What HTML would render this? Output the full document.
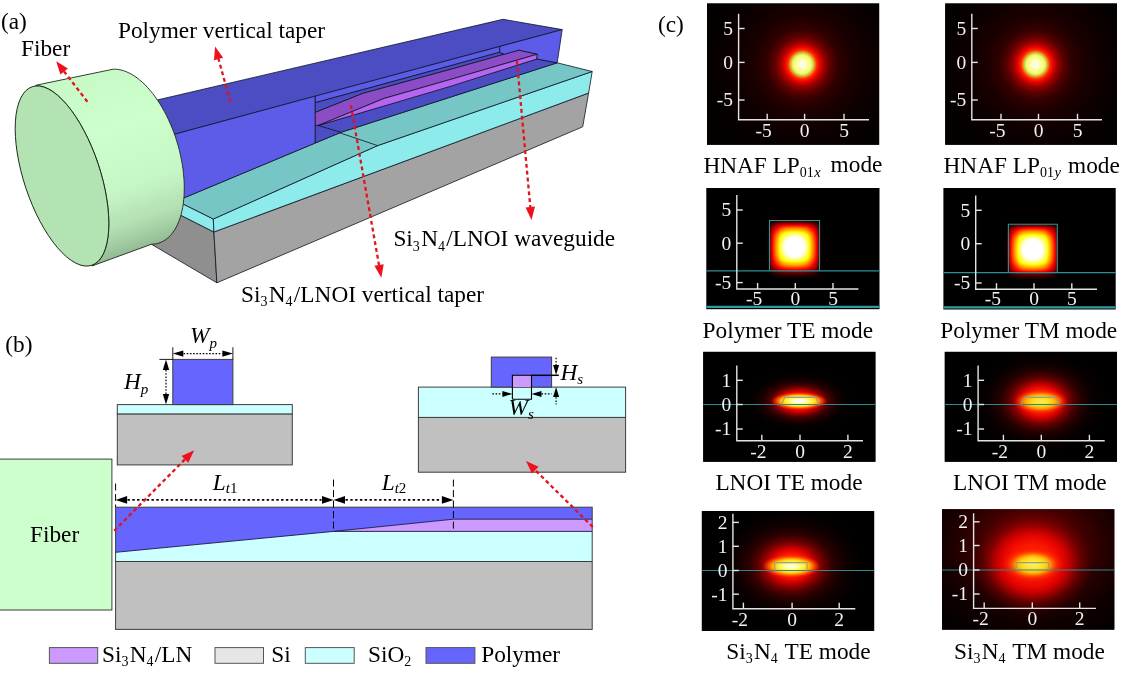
<!DOCTYPE html>
<html><head><meta charset="utf-8"><title>Fiber-to-chip coupler figure</title>
<style>
html,body{margin:0;padding:0;background:#fff;}
svg{display:block;font-family:"Liberation Serif","Times New Roman",serif;}
</style></head><body>
<svg width="1121" height="684" viewBox="0 0 1121 684">
<rect width="1121" height="684" fill="#fff"/>
<defs>
<linearGradient id="fibside" gradientUnits="userSpaceOnUse" x1="105" y1="72" x2="165" y2="250">
<stop offset="0" stop-color="#c8fac8"/><stop offset="0.3" stop-color="#ccffcc"/><stop offset="0.62" stop-color="#c6f6c6"/><stop offset="0.8" stop-color="#b4e0b4"/><stop offset="0.92" stop-color="#9cc49c"/><stop offset="1" stop-color="#86aa86"/>
</linearGradient>
</defs>

<g id="panelA">
<polygon points="183.0,216.4 213.9,232.0 216.9,282.8 152.7,245.0 140.0,237.5 140.0,195.0" fill="#8f8f8f" stroke="#0c1424" stroke-width="0.8" stroke-linejoin="round" />
<polygon points="150.0,187.5 213.3,219.0 213.9,232.0 150.0,199.7" fill="#8eebeb" stroke="#0c1424" stroke-width="0.8" stroke-linejoin="round" />
<polygon points="213.9,232.0 588.6,93.0 582.7,126.8 216.9,282.8" fill="#a3a3a3" stroke="#0c1424" stroke-width="0.8" stroke-linejoin="round" />
<polygon points="213.3,219.0 377.6,145.6 592.2,71.5 588.6,93.0 213.9,232.0" fill="#8eebeb" stroke="#0c1424" stroke-width="0.8" stroke-linejoin="round" />
<polygon points="160.0,207.9 315.3,143.0 341.0,132.3 557.2,62.8 592.2,71.5 377.6,145.6 213.3,219.0 150.0,187.5" fill="#77c6c6" stroke="#0c1424" stroke-width="0.8" stroke-linejoin="round" />
<line x1="377.6" y1="145.6" x2="318.2" y2="125.5" stroke="#0c1424" stroke-width="0.8" />
<polygon points="140.0,104.0 503.0,19.3 562.2,29.6 160.0,138.2" fill="#4c4cc3" stroke="#0c1424" stroke-width="0.8" stroke-linejoin="round" />
<polygon points="160.0,138.2 315.3,96.1 315.3,143.0 160.0,207.9" fill="#5c5ce8" stroke="#0c1424" stroke-width="0.8" stroke-linejoin="round" />
<polygon points="315.3,125.3 318.2,125.5 536.9,59.0 557.2,62.8 341.0,132.3 315.3,143.0" fill="#4c4cc3" stroke="#0c1424" stroke-width="0.8" stroke-linejoin="round" />
<line x1="341.0" y1="132.3" x2="318.2" y2="125.5" stroke="#0c1424" stroke-width="0.8" />
<polygon points="315.3,96.1 499.7,46.5 499.7,52.3 315.3,102.7" fill="#5c5ce8" stroke="#0c1424" stroke-width="0.8" stroke-linejoin="round" />
<polygon points="315.3,102.7 499.7,52.3 504.3,54.2 450.0,69.5 362.8,93.4 315.3,112.4" fill="#4c4cc3" stroke="#0c1424" stroke-width="0.8" stroke-linejoin="round" />
<polygon points="315.3,112.4 362.8,93.4 450.0,69.5 519.0,50.1 537.4,54.2 450.0,79.6 384.2,98.4 318.2,125.5 315.3,125.3" fill="#8c4cc6" stroke="#0c1424" stroke-width="0.8" stroke-linejoin="round" />
<polygon points="318.2,125.5 384.2,98.4 450.0,79.6 537.4,54.2 536.9,59.0 450.0,86.5" fill="#b665f0" stroke="#0c1424" stroke-width="0.8" stroke-linejoin="round" />
<polygon points="499.7,46.5 562.2,29.6 557.2,62.8 536.9,59.0 537.4,54.2 519.0,50.1 504.3,54.2 499.7,52.3" fill="#5c5ce8" stroke="#0c1424" stroke-width="0.8" stroke-linejoin="round" />
<polygon points="35.7,85.3 113.2,69.2 115.7,69.2 118.3,69.5 120.9,70.0 123.6,70.7 126.2,71.7 128.9,72.9 131.6,74.3 134.3,76.0 137.1,77.9 139.7,80.0 142.4,82.3 145.1,84.8 147.7,87.6 150.2,90.5 152.8,93.6 155.2,96.9 157.6,100.3 160.0,103.9 162.2,107.7 164.4,111.6 166.5,115.6 168.5,119.7 170.4,123.9 172.2,128.2 173.9,132.6 175.5,137.1 176.9,141.6 178.3,146.2 179.5,150.8 180.5,155.4 181.5,160.0 182.3,164.6 183.0,169.2 183.5,173.7 183.9,178.2 184.2,182.7 184.3,187.0 184.2,191.3 184.1,195.5 183.7,199.6 183.3,203.5 182.7,207.4 181.9,211.1 181.1,214.6 180.1,218.0 178.9,221.2 177.7,224.2 176.3,227.0 174.8,229.7 173.1,232.1 171.4,234.4 169.6,236.4 167.6,238.2 165.6,239.7 163.4,241.1 161.2,242.2 158.9,243.1 156.5,243.7 154.1,244.1 151.6,244.2 91.9,266.0 91.7,265.3 93.5,264.6 95.2,263.6 96.8,262.5 98.4,261.1 99.8,259.5 101.2,257.6 102.4,255.6 103.6,253.4 104.6,250.9 105.5,248.3 106.4,245.5 107.1,242.5 107.6,239.3 108.1,235.9 108.5,232.5 108.7,228.8 108.8,225.0 108.8,221.1 108.7,217.1 108.4,213.0 108.0,208.8 107.6,204.5 106.9,200.1 106.2,195.7 105.4,191.2 104.4,186.7 103.4,182.1 102.2,177.5 100.9,173.0 99.6,168.4 98.1,163.9 96.6,159.3 94.9,154.9 93.2,150.5 91.4,146.1 89.5,141.8 87.5,137.6 85.5,133.6 83.4,129.6 81.3,125.7 79.1,122.0 76.8,118.4 74.6,115.0 72.3,111.7 69.9,108.6 67.6,105.6 65.2,102.8 62.8,100.3 60.5,97.9 58.1,95.7 55.7,93.7 53.4,92.0 51.1,90.4 48.8,89.1 46.5,88.0 44.3,87.2 42.1,86.5 40.0,86.1 37.9,85.9 35.9,86.0" fill="url(#fibside)" stroke="#1a2a1a" stroke-width="0.9" stroke-linejoin="round"/>
<ellipse cx="62.0" cy="176.0" rx="94.1" ry="38.1" transform="rotate(-108.43 62.0 176.0)" fill="#b3e2b3" stroke="#1a2a1a" stroke-width="0.9"/>
<polygon points="56.2,61.2 67.9,68.6 60.4,74.4" fill="#f0101c"/>
<line x1="87.4" y1="101.7" x2="64.1" y2="71.5" stroke="#e0141a" stroke-width="2.3" stroke-dasharray="3.9 3.0"/>
<polygon points="215.1,46.4 223.1,57.7 214.0,60.2" fill="#f0101c"/>
<line x1="230.3" y1="101.7" x2="218.5" y2="58.9" stroke="#e0141a" stroke-width="2.3" stroke-dasharray="3.9 3.0"/>
<polygon points="381.3,277.8 374.4,265.8 383.7,264.2" fill="#f0101c"/>
<line x1="350.9" y1="105.3" x2="379.0" y2="265.0" stroke="#e0141a" stroke-width="2.3" stroke-dasharray="3.9 3.0"/>
<polygon points="531.5,219.9 525.6,207.4 535.0,206.5" fill="#f0101c"/>
<line x1="516.9" y1="60.8" x2="530.3" y2="207.0" stroke="#e0141a" stroke-width="2.3" stroke-dasharray="3.9 3.0"/>
<text x="1.0" y="28.5" font-size="23.3" fill="#000" text-anchor="start" >(a)</text>
<text x="21.0" y="55.7" font-size="23.3" fill="#000" text-anchor="start" >Fiber</text>
<text x="118.0" y="37.5" font-size="23.3" fill="#000" text-anchor="start" >Polymer vertical taper</text>
<text x="393.4" y="246.4" font-size="23.3" fill="#000" text-anchor="start" >Si<tspan dy="4.2" font-size="14">3</tspan><tspan dy="-4.2" dx="1.3">N</tspan><tspan dy="4.2" font-size="14">4</tspan><tspan dy="-4.2" dx="1.3">/LNOI waveguide</tspan></text>
<text x="241.0" y="301.5" font-size="23.3" fill="#000" text-anchor="start" >Si<tspan dy="4.2" font-size="14">3</tspan><tspan dy="-4.2" dx="1.3">N</tspan><tspan dy="4.2" font-size="14">4</tspan><tspan dy="-4.2" dx="1.3">/LNOI vertical taper</tspan></text>
</g>
<g id="panelB">
<text x="5.3" y="352.0" font-size="23.3" fill="#000" text-anchor="start" >(b)</text>
<rect x="117.3" y="413.9" width="175.0" height="51.0" fill="#c0c0c0" stroke="#3c3c3c" stroke-width="1"/>
<rect x="117.3" y="404.6" width="175.0" height="9.3" fill="#ccffff" stroke="#3c3c3c" stroke-width="1"/>
<rect x="172.8" y="359.4" width="60.1" height="45.2" fill="#6666ff" stroke="#3c3c3c" stroke-width="1"/>
<line x1="172.8" y1="347.3" x2="172.8" y2="359.4" stroke="#000" stroke-width="0.9" />
<line x1="232.9" y1="347.3" x2="232.9" y2="359.4" stroke="#000" stroke-width="0.9" />
<polygon points="172.8,353.6 183.3,350.4 183.3,356.8" fill="#000"/>
<polygon points="232.9,353.6 222.4,356.8 222.4,350.4" fill="#000"/>
<line x1="183.5" y1="353.6" x2="222.3" y2="353.6" stroke="#000" stroke-width="1.2" stroke-dasharray="1.6 1.6"/>
<text x="190" y="342.5" font-size="23.3" font-style="italic">W<tspan dy="5" font-size="15">p</tspan></text>
<line x1="159.4" y1="359.4" x2="172.8" y2="359.4" stroke="#000" stroke-width="0.9" />
<polygon points="166.0,359.4 169.2,369.9 162.8,369.9" fill="#000"/>
<polygon points="166.0,404.6 162.8,394.1 169.2,394.1" fill="#000"/>
<line x1="166.0" y1="370.0" x2="166.0" y2="394.0" stroke="#000" stroke-width="1.2" stroke-dasharray="1.6 1.6"/>
<text x="124" y="389.2" font-size="23.3" font-style="italic">H<tspan dy="5" font-size="15">p</tspan></text>
<rect x="-2.0" y="459.1" width="113.9" height="150.9" fill="#ccffcc" stroke="#3c3c3c" stroke-width="1"/>
<text x="30.0" y="541.5" font-size="23.3" fill="#000" text-anchor="start" >Fiber</text>
<rect x="115.6" y="561.5" width="476.6" height="67.9" fill="#c0c0c0" stroke="none" stroke-width="0"/>
<polygon points="115.6,507.2 592.2,507.2 592.2,561.5 115.6,561.5" fill="#ccffff" stroke="none" stroke-width="0" stroke-linejoin="round" />
<polygon points="115.6,507.2 592.2,507.2 592.2,519.2 453.4,519.2 333.5,531.4 115.6,552.3" fill="#6666ff" stroke="none" stroke-width="0" stroke-linejoin="round" />
<polygon points="333.5,531.4 453.4,519.2 592.2,519.2 592.2,531.4" fill="#cc99ff" stroke="none" stroke-width="0" stroke-linejoin="round" />
<polyline points="115.6,552.3 333.5,531.4 453.4,519.2 592.2,519.2" fill="none" stroke="#1a1a40" stroke-width="0.9"/>
<line x1="333.5" y1="531.4" x2="592.2" y2="531.4" stroke="#1a1a40" stroke-width="0.9" />
<line x1="115.6" y1="561.5" x2="592.2" y2="561.5" stroke="#3c3c3c" stroke-width="1" />
<rect x="115.6" y="507.2" width="476.6" height="122.2" fill="none" stroke="#3c3c3c" stroke-width="1"/>
<line x1="115.6" y1="483.5" x2="115.6" y2="507.0" stroke="#000" stroke-width="1" stroke-dasharray="7 3.5"/>
<line x1="333.5" y1="479.6" x2="333.5" y2="531.4" stroke="#000" stroke-width="1" stroke-dasharray="7 3.5"/>
<line x1="453.4" y1="479.6" x2="453.4" y2="531.4" stroke="#000" stroke-width="1" stroke-dasharray="7 3.5"/>
<polygon points="115.6,499.9 127.1,496.1 127.1,503.7" fill="#000"/>
<polygon points="333.5,499.9 322.0,503.7 322.0,496.1" fill="#000"/>
<line x1="127.5" y1="499.9" x2="321.5" y2="499.9" stroke="#000" stroke-width="1.6" stroke-dasharray="2.4 2.4"/>
<polygon points="333.5,499.9 345.0,496.1 345.0,503.7" fill="#000"/>
<polygon points="453.4,499.9 441.9,503.7 441.9,496.1" fill="#000"/>
<line x1="345.5" y1="499.9" x2="441.5" y2="499.9" stroke="#000" stroke-width="1.6" stroke-dasharray="2.4 2.4"/>
<text x="212.8" y="489.6" font-size="23.3" font-style="italic">L<tspan dy="3.5" font-size="15">t</tspan><tspan font-size="15" font-style="normal">1</tspan></text>
<text x="381.7" y="489.6" font-size="23.3" font-style="italic">L<tspan dy="3.5" font-size="15">t</tspan><tspan font-size="15" font-style="normal">2</tspan></text>
<rect x="418.4" y="417.4" width="207.2" height="54.8" fill="#c0c0c0" stroke="#3c3c3c" stroke-width="1"/>
<rect x="418.4" y="387.1" width="207.2" height="30.3" fill="#ccffff" stroke="#3c3c3c" stroke-width="1"/>
<rect x="491.3" y="357.1" width="60.3" height="30.0" fill="#6666ff" stroke="#3c3c3c" stroke-width="1"/>
<rect x="512.4" y="375.4" width="19.1" height="11.7" fill="#cc99ff" stroke="none" stroke-width="0"/>
<polyline points="512.4,399.2 512.4,375.3 531.5,375.3 531.5,399.2 512.4,399.2" fill="none" stroke="#000" stroke-width="1.1"/>
<line x1="531.5" y1="375.3" x2="558.8" y2="375.3" stroke="#000" stroke-width="1.5" />
<polygon points="512.4,393.9 502.4,396.9 502.4,390.9" fill="#000"/>
<line x1="492.4" y1="393.9" x2="502.4" y2="393.9" stroke="#000" stroke-width="1.2" stroke-dasharray="1.6 1.6"/>
<polygon points="531.5,393.9 541.5,390.9 541.5,396.9" fill="#000"/>
<line x1="541.5" y1="393.9" x2="551.6" y2="393.9" stroke="#000" stroke-width="1.2" stroke-dasharray="1.6 1.6"/>
<polygon points="556.1,375.0 553.1,365.0 559.1,365.0" fill="#000"/>
<line x1="556.1" y1="357.7" x2="556.1" y2="365.0" stroke="#000" stroke-width="1.2" stroke-dasharray="1.6 1.6"/>
<polygon points="556.1,387.1 559.1,397.1 553.1,397.1" fill="#000"/>
<line x1="556.1" y1="397.2" x2="556.1" y2="404.6" stroke="#000" stroke-width="1.2" stroke-dasharray="1.6 1.6"/>
<text x="560.5" y="379.6" font-size="23.3" font-style="italic">H<tspan dy="4" font-size="15">s</tspan></text>
<text x="508.5" y="415.3" font-size="23.3" font-style="italic">W<tspan dy="4" font-size="15">s</tspan></text>
<polygon points="194.1,450.2 188.3,462.8 181.6,456.1" fill="#f0101c"/>
<line x1="114.2" y1="530.8" x2="184.9" y2="459.4" stroke="#e0141a" stroke-width="2.3" stroke-dasharray="3.9 3.0"/>
<polygon points="526.0,461.0 538.6,466.8 531.9,473.5" fill="#f0101c"/>
<line x1="592.8" y1="527.0" x2="535.2" y2="470.1" stroke="#e0141a" stroke-width="2.3" stroke-dasharray="3.9 3.0"/>
<rect x="49.4" y="647.6" width="48.3" height="15.7" fill="#cc99ff" stroke="#555" stroke-width="1"/>
<text x="102.0" y="661.5" font-size="23.3" fill="#000" text-anchor="start" >Si<tspan dy="4.2" font-size="14">3</tspan><tspan dy="-4.2" dx="1.3">N</tspan><tspan dy="4.2" font-size="14">4</tspan><tspan dy="-4.2" dx="1.3">/LN</tspan></text>
<rect x="215.0" y="647.6" width="48.5" height="15.7" fill="#e6e6e6" stroke="#555" stroke-width="1"/>
<text x="271.3" y="661.5" font-size="23.3" fill="#000" text-anchor="start" >Si</text>
<rect x="305.3" y="647.6" width="48.9" height="15.7" fill="#ccffff" stroke="#555" stroke-width="1"/>
<text x="368.0" y="661.5" font-size="23.3" fill="#000" text-anchor="start" >SiO<tspan dy="4.2" font-size="14">2</tspan></text>
<rect x="426.0" y="647.6" width="48.9" height="15.7" fill="#6666ff" stroke="#555" stroke-width="1"/>
<text x="481.2" y="661.5" font-size="23.3" fill="#000" text-anchor="start" >Polymer</text>
</g>
<g id="panelC">
<text x="658.0" y="32.0" font-size="23.3" fill="#000" text-anchor="start" >(c)</text>
<rect x="707" y="3.4" width="172.2" height="141.4" fill="#000"/>
<radialGradient id="g1" gradientUnits="userSpaceOnUse" cx="802.3" cy="64.4" r="90" gradientTransform="translate(802.3 64.4) scale(1 1.0000) translate(-802.3 -64.4)"><stop offset="0.0000" stop-color="#ffffff"/><stop offset="0.0333" stop-color="#ffffd8"/><stop offset="0.0667" stop-color="#ffff94"/><stop offset="0.1000" stop-color="#f8f96c"/><stop offset="0.1133" stop-color="#dcea60"/><stop offset="0.1222" stop-color="#b8d650"/><stop offset="0.1311" stop-color="#d8b030"/><stop offset="0.1422" stop-color="#ff7810"/><stop offset="0.1611" stop-color="#ff2a00"/><stop offset="0.1944" stop-color="#e60400"/><stop offset="0.2444" stop-color="#9c0000"/><stop offset="0.3111" stop-color="#5c0000"/><stop offset="0.4000" stop-color="#320000"/><stop offset="0.5333" stop-color="#1c0000"/><stop offset="0.7111" stop-color="#100000"/><stop offset="1.0000" stop-color="#050000"/></radialGradient>
<clipPath id="c2"><rect x="707" y="3.4" width="172.2" height="141.4"/></clipPath>
<rect x="707" y="3.4" width="172.2" height="141.4" fill="url(#g1)" clip-path="url(#c2)"/>
<polyline points="738.6,13.8 738.6,119.8 869,119.8" fill="none" stroke="#e4e4e4" stroke-width="1.4"/>
<line x1="738.6" y1="28.5" x2="744.6" y2="28.5" stroke="#e4e4e4" stroke-width="1.4" />
<text x="733.1" y="34.8" font-size="19.5" fill="#f2f2f2" text-anchor="end" >5</text>
<line x1="738.6" y1="62.4" x2="744.6" y2="62.4" stroke="#e4e4e4" stroke-width="1.4" />
<text x="733.1" y="68.7" font-size="19.5" fill="#f2f2f2" text-anchor="end" >0</text>
<line x1="738.6" y1="100.0" x2="744.6" y2="100.0" stroke="#e4e4e4" stroke-width="1.4" />
<text x="733.1" y="106.3" font-size="19.5" fill="#f2f2f2" text-anchor="end" >-5</text>
<line x1="767.2" y1="119.8" x2="767.2" y2="113.8" stroke="#e4e4e4" stroke-width="1.4" />
<text x="771.8" y="136.8" font-size="19.5" fill="#f2f2f2" text-anchor="end">-5</text>
<line x1="804.6" y1="119.8" x2="804.6" y2="113.8" stroke="#e4e4e4" stroke-width="1.4" />
<text x="804.6" y="136.8" font-size="19.5" fill="#f2f2f2" text-anchor="middle" >0</text>
<line x1="844.0" y1="119.8" x2="844.0" y2="113.8" stroke="#e4e4e4" stroke-width="1.4" />
<text x="844.0" y="136.8" font-size="19.5" fill="#f2f2f2" text-anchor="middle" >5</text>
<rect x="945.2" y="3.4" width="171.8" height="141.4" fill="#000"/>
<radialGradient id="g3" gradientUnits="userSpaceOnUse" cx="1035.5" cy="64.5" r="90" gradientTransform="translate(1035.5 64.5) scale(1 1.0000) translate(-1035.5 -64.5)"><stop offset="0.0000" stop-color="#ffffff"/><stop offset="0.0333" stop-color="#ffffd8"/><stop offset="0.0667" stop-color="#ffff94"/><stop offset="0.1000" stop-color="#f8f96c"/><stop offset="0.1133" stop-color="#dcea60"/><stop offset="0.1222" stop-color="#b8d650"/><stop offset="0.1311" stop-color="#d8b030"/><stop offset="0.1422" stop-color="#ff7810"/><stop offset="0.1611" stop-color="#ff2a00"/><stop offset="0.1944" stop-color="#e60400"/><stop offset="0.2444" stop-color="#9c0000"/><stop offset="0.3111" stop-color="#5c0000"/><stop offset="0.4000" stop-color="#320000"/><stop offset="0.5333" stop-color="#1c0000"/><stop offset="0.7111" stop-color="#100000"/><stop offset="1.0000" stop-color="#050000"/></radialGradient>
<clipPath id="c4"><rect x="945.2" y="3.4" width="171.8" height="141.4"/></clipPath>
<rect x="945.2" y="3.4" width="171.8" height="141.4" fill="url(#g3)" clip-path="url(#c4)"/>
<polyline points="971.8,13.8 971.8,119.8 1102,119.8" fill="none" stroke="#e4e4e4" stroke-width="1.4"/>
<line x1="971.8" y1="28.5" x2="977.8" y2="28.5" stroke="#e4e4e4" stroke-width="1.4" />
<text x="966.3" y="34.8" font-size="19.5" fill="#f2f2f2" text-anchor="end" >5</text>
<line x1="971.8" y1="62.4" x2="977.8" y2="62.4" stroke="#e4e4e4" stroke-width="1.4" />
<text x="966.3" y="68.7" font-size="19.5" fill="#f2f2f2" text-anchor="end" >0</text>
<line x1="971.8" y1="100.0" x2="977.8" y2="100.0" stroke="#e4e4e4" stroke-width="1.4" />
<text x="966.3" y="106.3" font-size="19.5" fill="#f2f2f2" text-anchor="end" >-5</text>
<line x1="1001.0" y1="119.8" x2="1001.0" y2="113.8" stroke="#e4e4e4" stroke-width="1.4" />
<text x="1005.6" y="136.8" font-size="19.5" fill="#f2f2f2" text-anchor="end">-5</text>
<line x1="1038.5" y1="119.8" x2="1038.5" y2="113.8" stroke="#e4e4e4" stroke-width="1.4" />
<text x="1038.5" y="136.8" font-size="19.5" fill="#f2f2f2" text-anchor="middle" >0</text>
<line x1="1077.5" y1="119.8" x2="1077.5" y2="113.8" stroke="#e4e4e4" stroke-width="1.4" />
<text x="1077.5" y="136.8" font-size="19.5" fill="#f2f2f2" text-anchor="middle" >5</text>
<text x="703.4" y="172.5" font-size="23.3" fill="#000" text-anchor="start" >HNAF LP<tspan dy="4.2" font-size="14">01</tspan><tspan font-size="14.5" font-style="italic" dx="0.5">x</tspan><tspan dy="-4.5"> </tspan><tspan dx="4">mode</tspan></text>
<text x="943.5" y="172.5" font-size="23.3" fill="#000" text-anchor="start" >HNAF LP<tspan dy="4.2" font-size="14">01</tspan><tspan font-size="14.5" font-style="italic" dx="0.5">y</tspan><tspan dy="-4.2" dx="1.3"> mode</tspan></text>
<filter id="hot" color-interpolation-filters="sRGB" x="0" y="0" width="100%" height="100%"><feComponentTransfer><feFuncR type="table" tableValues="0 .36 .70 1 1 1 1 1 1"/><feFuncG type="table" tableValues="0 0 0 0.02 .333 .667 1 1 1"/><feFuncB type="table" tableValues="0 0 0 0 0 0 0 .5 1"/></feComponentTransfer></filter>
<rect x="706.3" y="188" width="173.2" height="121.2" fill="#000"/>
<linearGradient id="fx5" gradientUnits="userSpaceOnUse" x1="764.00" y1="0" x2="825.00" y2="0"><stop offset="0.0410" stop-color="#000000"/><stop offset="0.0656" stop-color="#060606"/><stop offset="0.0902" stop-color="#171717"/><stop offset="0.1230" stop-color="#4c4c4c"/><stop offset="0.1557" stop-color="#707070"/><stop offset="0.1951" stop-color="#949494"/><stop offset="0.2541" stop-color="#bfbfbf"/><stop offset="0.2787" stop-color="#d1d1d1"/><stop offset="0.3066" stop-color="#e0e0e0"/><stop offset="0.3443" stop-color="#ededed"/><stop offset="0.3852" stop-color="#f6f6f6"/><stop offset="0.4344" stop-color="#fcfcfc"/><stop offset="0.5000" stop-color="#ffffff"/><stop offset="0.5656" stop-color="#fcfcfc"/><stop offset="0.6148" stop-color="#f6f6f6"/><stop offset="0.6557" stop-color="#ededed"/><stop offset="0.6934" stop-color="#e0e0e0"/><stop offset="0.7213" stop-color="#d1d1d1"/><stop offset="0.7459" stop-color="#bfbfbf"/><stop offset="0.8049" stop-color="#949494"/><stop offset="0.8443" stop-color="#707070"/><stop offset="0.8770" stop-color="#4c4c4c"/><stop offset="0.9098" stop-color="#171717"/><stop offset="0.9344" stop-color="#060606"/><stop offset="0.9590" stop-color="#000000"/></linearGradient>
<linearGradient id="gy5" gradientUnits="userSpaceOnUse" x1="0" y1="217.00" x2="0" y2="283.00"><stop offset="0.0000" stop-color="#000000"/><stop offset="0.0303" stop-color="#000000"/><stop offset="0.0530" stop-color="#0a0a0a"/><stop offset="0.1053" stop-color="#3d3d3d"/><stop offset="0.1356" stop-color="#6b6b6b"/><stop offset="0.1720" stop-color="#949494"/><stop offset="0.2265" stop-color="#bfbfbf"/><stop offset="0.2492" stop-color="#d1d1d1"/><stop offset="0.2750" stop-color="#e0e0e0"/><stop offset="0.3098" stop-color="#ededed"/><stop offset="0.3477" stop-color="#f6f6f6"/><stop offset="0.3932" stop-color="#fcfcfc"/><stop offset="0.4538" stop-color="#ffffff"/><stop offset="0.5144" stop-color="#fcfcfc"/><stop offset="0.5598" stop-color="#f6f6f6"/><stop offset="0.5977" stop-color="#ededed"/><stop offset="0.6326" stop-color="#e0e0e0"/><stop offset="0.6583" stop-color="#d1d1d1"/><stop offset="0.6811" stop-color="#bfbfbf"/><stop offset="0.7356" stop-color="#999999"/><stop offset="0.7720" stop-color="#737373"/><stop offset="0.8152" stop-color="#454545"/><stop offset="0.8455" stop-color="#212121"/><stop offset="0.8909" stop-color="#0d0d0d"/><stop offset="0.9364" stop-color="#000000"/><stop offset="1.0000" stop-color="#000000"/></linearGradient>
<g filter="url(#hot)" style="isolation:isolate">
<rect x="760" y="213" width="69" height="74" fill="#000"/>
<rect x="764.00" y="217.00" width="61.00" height="66.00" fill="url(#fx5)"/>
<rect x="764.00" y="217.00" width="61.00" height="66.00" fill="url(#gy5)" style="mix-blend-mode:multiply"/>
</g>
<radialGradient id="g6" gradientUnits="userSpaceOnUse" cx="794.5" cy="246.95000000000002" r="15" gradientTransform="translate(794.5 246.95000000000002) scale(1 1.0000) translate(-794.5 -246.95000000000002)"><stop offset="0.0000" stop-color="#ffffff"/><stop offset="0.5667" stop-color="#ffffff"/><stop offset="0.7333" stop-color="#fffff0" stop-opacity="0.75"/><stop offset="0.8667" stop-color="#ffffc0" stop-opacity="0.3"/><stop offset="1.0000" stop-color="#ffff80" stop-opacity="0"/></radialGradient>
<circle cx="794.5" cy="247.0" r="15" fill="url(#g6)"/>
<polyline points="769.5,270.8 769.5,220.5 819.5,220.5 819.5,270.8" fill="none" stroke="#2c9096" stroke-width="1.1"/>
<line x1="706.3" y1="270.8" x2="879.5" y2="270.8" stroke="#2c9096" stroke-width="1.3" />
<line x1="706.3" y1="306.8" x2="879.5" y2="306.8" stroke="#2f9aa0" stroke-width="2.2" />
<polyline points="736.8,195 736.8,289 858.4,289" fill="none" stroke="#e4e4e4" stroke-width="1.4"/>
<line x1="736.8" y1="210.0" x2="742.8" y2="210.0" stroke="#e4e4e4" stroke-width="1.4" />
<text x="731.3" y="216.3" font-size="19.5" fill="#f2f2f2" text-anchor="end" >5</text>
<line x1="736.8" y1="243.2" x2="742.8" y2="243.2" stroke="#e4e4e4" stroke-width="1.4" />
<text x="731.3" y="249.5" font-size="19.5" fill="#f2f2f2" text-anchor="end" >0</text>
<line x1="736.8" y1="282.6" x2="742.8" y2="282.6" stroke="#e4e4e4" stroke-width="1.4" />
<text x="731.3" y="288.9" font-size="19.5" fill="#f2f2f2" text-anchor="end" >-5</text>
<line x1="757.6" y1="289.0" x2="757.6" y2="283.0" stroke="#e4e4e4" stroke-width="1.4" />
<text x="762.2" y="304.7" font-size="19.5" fill="#f2f2f2" text-anchor="end">-5</text>
<line x1="795.3" y1="289.0" x2="795.3" y2="283.0" stroke="#e4e4e4" stroke-width="1.4" />
<text x="795.3" y="304.7" font-size="19.5" fill="#f2f2f2" text-anchor="middle" >0</text>
<line x1="833.0" y1="289.0" x2="833.0" y2="283.0" stroke="#e4e4e4" stroke-width="1.4" />
<text x="833.0" y="304.7" font-size="19.5" fill="#f2f2f2" text-anchor="middle" >5</text>
<rect x="943.4" y="188" width="172.3" height="121.5" fill="#000"/>
<linearGradient id="fx7" gradientUnits="userSpaceOnUse" x1="1003.00" y1="0" x2="1063.00" y2="0"><stop offset="0.0400" stop-color="#000000"/><stop offset="0.0650" stop-color="#060606"/><stop offset="0.0900" stop-color="#171717"/><stop offset="0.1142" stop-color="#4c4c4c"/><stop offset="0.1475" stop-color="#707070"/><stop offset="0.1875" stop-color="#949494"/><stop offset="0.2475" stop-color="#bfbfbf"/><stop offset="0.2725" stop-color="#d1d1d1"/><stop offset="0.3008" stop-color="#e0e0e0"/><stop offset="0.3392" stop-color="#ededed"/><stop offset="0.3808" stop-color="#f6f6f6"/><stop offset="0.4308" stop-color="#fcfcfc"/><stop offset="0.4975" stop-color="#ffffff"/><stop offset="0.5642" stop-color="#fcfcfc"/><stop offset="0.6142" stop-color="#f6f6f6"/><stop offset="0.6558" stop-color="#ededed"/><stop offset="0.6942" stop-color="#e0e0e0"/><stop offset="0.7225" stop-color="#d1d1d1"/><stop offset="0.7475" stop-color="#bfbfbf"/><stop offset="0.8075" stop-color="#949494"/><stop offset="0.8475" stop-color="#707070"/><stop offset="0.8808" stop-color="#4c4c4c"/><stop offset="0.9050" stop-color="#171717"/><stop offset="0.9300" stop-color="#060606"/><stop offset="0.9550" stop-color="#000000"/></linearGradient>
<linearGradient id="gy7" gradientUnits="userSpaceOnUse" x1="0" y1="221.00" x2="0" y2="285.00"><stop offset="0.0000" stop-color="#000000"/><stop offset="0.0266" stop-color="#000000"/><stop offset="0.0500" stop-color="#0a0a0a"/><stop offset="0.0891" stop-color="#3d3d3d"/><stop offset="0.1203" stop-color="#6b6b6b"/><stop offset="0.1578" stop-color="#949494"/><stop offset="0.2141" stop-color="#bfbfbf"/><stop offset="0.2375" stop-color="#d1d1d1"/><stop offset="0.2641" stop-color="#e0e0e0"/><stop offset="0.3000" stop-color="#ededed"/><stop offset="0.3391" stop-color="#f6f6f6"/><stop offset="0.3859" stop-color="#fcfcfc"/><stop offset="0.4484" stop-color="#ffffff"/><stop offset="0.5109" stop-color="#fcfcfc"/><stop offset="0.5578" stop-color="#f6f6f6"/><stop offset="0.5969" stop-color="#ededed"/><stop offset="0.6328" stop-color="#e0e0e0"/><stop offset="0.6594" stop-color="#d1d1d1"/><stop offset="0.6828" stop-color="#bfbfbf"/><stop offset="0.7391" stop-color="#999999"/><stop offset="0.7766" stop-color="#737373"/><stop offset="0.8063" stop-color="#454545"/><stop offset="0.8375" stop-color="#212121"/><stop offset="0.8844" stop-color="#0d0d0d"/><stop offset="0.9313" stop-color="#000000"/><stop offset="1.0000" stop-color="#000000"/></linearGradient>
<g filter="url(#hot)" style="isolation:isolate">
<rect x="999" y="217" width="68" height="72" fill="#000"/>
<rect x="1003.00" y="221.00" width="60.00" height="64.00" fill="url(#fx7)"/>
<rect x="1003.00" y="221.00" width="60.00" height="64.00" fill="url(#gy7)" style="mix-blend-mode:multiply"/>
</g>
<radialGradient id="g8" gradientUnits="userSpaceOnUse" cx="1032.85" cy="249.70000000000002" r="15" gradientTransform="translate(1032.85 249.70000000000002) scale(1 1.0000) translate(-1032.85 -249.70000000000002)"><stop offset="0.0000" stop-color="#ffffff"/><stop offset="0.5667" stop-color="#ffffff"/><stop offset="0.7333" stop-color="#fffff0" stop-opacity="0.75"/><stop offset="0.8667" stop-color="#ffffc0" stop-opacity="0.3"/><stop offset="1.0000" stop-color="#ffff80" stop-opacity="0"/></radialGradient>
<circle cx="1032.8" cy="249.7" r="15" fill="url(#g8)"/>
<polyline points="1008.4,272.6 1008.4,224.2 1057.3,224.2 1057.3,272.6" fill="none" stroke="#2c9096" stroke-width="1.1"/>
<line x1="943.4" y1="272.6" x2="1115.7" y2="272.6" stroke="#2c9096" stroke-width="1.3" />
<line x1="943.4" y1="307.4" x2="1115.7" y2="307.4" stroke="#2f9aa0" stroke-width="2.2" />
<polyline points="975.7,195.5 975.7,289.2 1097,289.2" fill="none" stroke="#e4e4e4" stroke-width="1.4"/>
<line x1="975.7" y1="210.3" x2="981.7" y2="210.3" stroke="#e4e4e4" stroke-width="1.4" />
<text x="970.2" y="216.6" font-size="19.5" fill="#f2f2f2" text-anchor="end" >5</text>
<line x1="975.7" y1="243.7" x2="981.7" y2="243.7" stroke="#e4e4e4" stroke-width="1.4" />
<text x="970.2" y="250.0" font-size="19.5" fill="#f2f2f2" text-anchor="end" >0</text>
<line x1="975.7" y1="283.0" x2="981.7" y2="283.0" stroke="#e4e4e4" stroke-width="1.4" />
<text x="970.2" y="289.3" font-size="19.5" fill="#f2f2f2" text-anchor="end" >-5</text>
<line x1="996.5" y1="289.2" x2="996.5" y2="283.2" stroke="#e4e4e4" stroke-width="1.4" />
<text x="1001.1" y="304.9" font-size="19.5" fill="#f2f2f2" text-anchor="end">-5</text>
<line x1="1034.0" y1="289.2" x2="1034.0" y2="283.2" stroke="#e4e4e4" stroke-width="1.4" />
<text x="1034.0" y="304.9" font-size="19.5" fill="#f2f2f2" text-anchor="middle" >0</text>
<line x1="1071.8" y1="289.2" x2="1071.8" y2="283.2" stroke="#e4e4e4" stroke-width="1.4" />
<text x="1071.8" y="304.9" font-size="19.5" fill="#f2f2f2" text-anchor="middle" >5</text>
<text x="702.6" y="338.1" font-size="23.3" fill="#000" text-anchor="start" >Polymer TE mode</text>
<text x="940.3" y="338.1" font-size="23.3" fill="#000" text-anchor="start" >Polymer TM mode</text>
<rect x="703.2" y="351.8" width="172.3" height="110.0" fill="#000"/>
<clipPath id="c9"><rect x="703.2" y="351.8" width="172.3" height="110.0"/></clipPath>
<radialGradient id="g10" gradientUnits="userSpaceOnUse" cx="799.2" cy="401.3" r="58" gradientTransform="translate(799.2 401.3) scale(1 0.5400) translate(-799.2 -401.3)"><stop offset="0.0000" stop-color="#ff2000"/><stop offset="0.2241" stop-color="#fa1400"/><stop offset="0.3017" stop-color="#e00400"/><stop offset="0.3707" stop-color="#b00000"/><stop offset="0.4397" stop-color="#780000"/><stop offset="0.5172" stop-color="#440000"/><stop offset="0.6379" stop-color="#1c0000"/><stop offset="0.7931" stop-color="#060000"/><stop offset="1.0000" stop-color="#000000"/></radialGradient>
<rect x="703.2" y="351.8" width="172.3" height="110.0" fill="url(#g10)" clip-path="url(#c9)"/>
<radialGradient id="g11" gradientUnits="userSpaceOnUse" cx="799.2" cy="401.0" r="28" gradientTransform="translate(799.2 401.0) scale(1 0.3200) translate(-799.2 -401.0)"><stop offset="0.0000" stop-color="#ffffff"/><stop offset="0.2143" stop-color="#ffffd8"/><stop offset="0.3929" stop-color="#fff860"/><stop offset="0.5714" stop-color="#ffe020"/><stop offset="0.6964" stop-color="#ffa000"/><stop offset="0.8214" stop-color="#ff4800" stop-opacity="0.8"/><stop offset="1.0000" stop-color="#ff2000" stop-opacity="0"/></radialGradient>
<rect x="703.2" y="351.8" width="172.3" height="110.0" fill="url(#g11)" clip-path="url(#c9)"/>
<line x1="703.2" y1="404.5" x2="875.5" y2="404.5" stroke="#2a8a90" stroke-width="1.1" />
<polyline points="781.6,404.5 784.7,397.4 815.8,397.4 819,404.5" fill="none" stroke="#94a088" stroke-width="1.1"/>
<polyline points="736.8,365.5 736.8,440.8 863,440.8" fill="none" stroke="#e4e4e4" stroke-width="1.4"/>
<line x1="736.8" y1="380.3" x2="742.8" y2="380.3" stroke="#e4e4e4" stroke-width="1.4" />
<text x="731.3" y="386.6" font-size="19.5" fill="#f2f2f2" text-anchor="end" >1</text>
<line x1="736.8" y1="404.5" x2="742.8" y2="404.5" stroke="#e4e4e4" stroke-width="1.4" />
<text x="731.3" y="410.8" font-size="19.5" fill="#f2f2f2" text-anchor="end" >0</text>
<line x1="736.8" y1="429.0" x2="742.8" y2="429.0" stroke="#e4e4e4" stroke-width="1.4" />
<text x="731.3" y="435.3" font-size="19.5" fill="#f2f2f2" text-anchor="end" >-1</text>
<line x1="761.8" y1="440.8" x2="761.8" y2="434.8" stroke="#e4e4e4" stroke-width="1.4" />
<text x="766.4" y="457.8" font-size="19.5" fill="#f2f2f2" text-anchor="end">-2</text>
<line x1="800.0" y1="440.8" x2="800.0" y2="434.8" stroke="#e4e4e4" stroke-width="1.4" />
<text x="800.0" y="457.8" font-size="19.5" fill="#f2f2f2" text-anchor="middle" >0</text>
<line x1="847.9" y1="440.8" x2="847.9" y2="434.8" stroke="#e4e4e4" stroke-width="1.4" />
<text x="847.9" y="457.8" font-size="19.5" fill="#f2f2f2" text-anchor="middle" >2</text>
<rect x="944.7" y="351.8" width="172.3" height="110.0" fill="#000"/>
<clipPath id="c12"><rect x="944.7" y="351.8" width="172.3" height="110.0"/></clipPath>
<radialGradient id="g13" gradientUnits="userSpaceOnUse" cx="1040.7" cy="401.5" r="66" gradientTransform="translate(1040.7 401.5) scale(1 0.7600) translate(-1040.7 -401.5)"><stop offset="0.0000" stop-color="#ff3000"/><stop offset="0.2121" stop-color="#fc1c00"/><stop offset="0.2879" stop-color="#e80800"/><stop offset="0.3485" stop-color="#c00000"/><stop offset="0.4167" stop-color="#860000"/><stop offset="0.5000" stop-color="#500000"/><stop offset="0.6212" stop-color="#240000"/><stop offset="0.7879" stop-color="#0a0000"/><stop offset="1.0000" stop-color="#000000"/></radialGradient>
<rect x="944.7" y="351.8" width="172.3" height="110.0" fill="url(#g13)" clip-path="url(#c12)"/>
<radialGradient id="g14" gradientUnits="userSpaceOnUse" cx="1040.7" cy="401.5" r="27" gradientTransform="translate(1040.7 401.5) scale(1 0.4500) translate(-1040.7 -401.5)"><stop offset="0.0000" stop-color="#fff050"/><stop offset="0.2593" stop-color="#ffe030"/><stop offset="0.4444" stop-color="#ffc810"/><stop offset="0.5926" stop-color="#ffa000"/><stop offset="0.7222" stop-color="#ff6800" stop-opacity="0.85"/><stop offset="0.8519" stop-color="#ff4000" stop-opacity="0.4"/><stop offset="1.0000" stop-color="#ff3000" stop-opacity="0"/></radialGradient>
<rect x="944.7" y="351.8" width="172.3" height="110.0" fill="url(#g14)" clip-path="url(#c12)"/>
<line x1="944.7" y1="404.5" x2="1117.0" y2="404.5" stroke="#2a8a90" stroke-width="1.1" />
<polyline points="1021,404.5 1025,397.4 1055.2,397.4 1059.2,404.5" fill="none" stroke="#94a088" stroke-width="1.1"/>
<polyline points="978.1,365.5 978.1,440.8 1104.7,440.8" fill="none" stroke="#e4e4e4" stroke-width="1.4"/>
<line x1="978.1" y1="380.3" x2="984.1" y2="380.3" stroke="#e4e4e4" stroke-width="1.4" />
<text x="972.6" y="386.6" font-size="19.5" fill="#f2f2f2" text-anchor="end" >1</text>
<line x1="978.1" y1="404.5" x2="984.1" y2="404.5" stroke="#e4e4e4" stroke-width="1.4" />
<text x="972.6" y="410.8" font-size="19.5" fill="#f2f2f2" text-anchor="end" >0</text>
<line x1="978.1" y1="429.0" x2="984.1" y2="429.0" stroke="#e4e4e4" stroke-width="1.4" />
<text x="972.6" y="435.3" font-size="19.5" fill="#f2f2f2" text-anchor="end" >-1</text>
<line x1="1003.4" y1="440.8" x2="1003.4" y2="434.8" stroke="#e4e4e4" stroke-width="1.4" />
<text x="1008.0" y="457.8" font-size="19.5" fill="#f2f2f2" text-anchor="end">-2</text>
<line x1="1041.3" y1="440.8" x2="1041.3" y2="434.8" stroke="#e4e4e4" stroke-width="1.4" />
<text x="1041.3" y="457.8" font-size="19.5" fill="#f2f2f2" text-anchor="middle" >0</text>
<line x1="1089.4" y1="440.8" x2="1089.4" y2="434.8" stroke="#e4e4e4" stroke-width="1.4" />
<text x="1089.4" y="457.8" font-size="19.5" fill="#f2f2f2" text-anchor="middle" >2</text>
<text x="715.4" y="489.8" font-size="23.3" fill="#000" text-anchor="start" >LNOI TE mode</text>
<text x="953.1" y="489.8" font-size="23.3" fill="#000" text-anchor="start" >LNOI TM mode</text>
<rect x="701.8" y="511" width="172.4" height="120.0" fill="#000"/>
<clipPath id="c15"><rect x="701.8" y="511" width="172.4" height="120.0"/></clipPath>
<radialGradient id="g16" gradientUnits="userSpaceOnUse" cx="791.3" cy="565.5" r="72" gradientTransform="translate(791.3 565.5) scale(1 0.7600) translate(-791.3 -565.5)"><stop offset="0.0000" stop-color="#ff3000"/><stop offset="0.2014" stop-color="#fc1c00"/><stop offset="0.2639" stop-color="#ec0800"/><stop offset="0.3194" stop-color="#c80000"/><stop offset="0.3889" stop-color="#900000"/><stop offset="0.4722" stop-color="#5a0000"/><stop offset="0.5833" stop-color="#2c0000"/><stop offset="0.7500" stop-color="#100000"/><stop offset="1.0000" stop-color="#000000"/></radialGradient>
<rect x="701.8" y="511" width="172.4" height="120.0" fill="url(#g16)" clip-path="url(#c15)"/>
<radialGradient id="g17" gradientUnits="userSpaceOnUse" cx="791.3" cy="566.2" r="29" gradientTransform="translate(791.3 566.2) scale(1 0.4000) translate(-791.3 -566.2)"><stop offset="0.0000" stop-color="#ffffe8"/><stop offset="0.2414" stop-color="#ffffa0"/><stop offset="0.4310" stop-color="#fff040"/><stop offset="0.5690" stop-color="#ffd010"/><stop offset="0.6897" stop-color="#ff9800"/><stop offset="0.8276" stop-color="#ff5000" stop-opacity="0.7"/><stop offset="1.0000" stop-color="#ff3000" stop-opacity="0"/></radialGradient>
<rect x="701.8" y="511" width="172.4" height="120.0" fill="url(#g17)" clip-path="url(#c15)"/>
<line x1="701.8" y1="570.5" x2="874.2" y2="570.5" stroke="#2a8a90" stroke-width="1.1" />
<polyline points="774.7,570.5 774.7,562.6 807.1,562.6 807.1,570.5" fill="none" stroke="#94a088" stroke-width="1.1"/>
<polyline points="732.9,513.7 732.9,608.7 855.3,608.7" fill="none" stroke="#e4e4e4" stroke-width="1.4"/>
<line x1="732.9" y1="522.4" x2="738.9" y2="522.4" stroke="#e4e4e4" stroke-width="1.4" />
<text x="727.4" y="528.7" font-size="19.5" fill="#f2f2f2" text-anchor="end" >2</text>
<line x1="732.9" y1="546.3" x2="738.9" y2="546.3" stroke="#e4e4e4" stroke-width="1.4" />
<text x="727.4" y="552.6" font-size="19.5" fill="#f2f2f2" text-anchor="end" >1</text>
<line x1="732.9" y1="570.5" x2="738.9" y2="570.5" stroke="#e4e4e4" stroke-width="1.4" />
<text x="727.4" y="576.8" font-size="19.5" fill="#f2f2f2" text-anchor="end" >0</text>
<line x1="732.9" y1="594.2" x2="738.9" y2="594.2" stroke="#e4e4e4" stroke-width="1.4" />
<text x="727.4" y="600.5" font-size="19.5" fill="#f2f2f2" text-anchor="end" >-1</text>
<line x1="743.4" y1="608.7" x2="743.4" y2="602.7" stroke="#e4e4e4" stroke-width="1.4" />
<text x="748.0" y="625.7" font-size="19.5" fill="#f2f2f2" text-anchor="end">-2</text>
<line x1="792.1" y1="608.7" x2="792.1" y2="602.7" stroke="#e4e4e4" stroke-width="1.4" />
<text x="792.1" y="625.7" font-size="19.5" fill="#f2f2f2" text-anchor="middle" >0</text>
<line x1="839.2" y1="608.7" x2="839.2" y2="602.7" stroke="#e4e4e4" stroke-width="1.4" />
<text x="839.2" y="625.7" font-size="19.5" fill="#f2f2f2" text-anchor="middle" >2</text>
<rect x="942" y="509.2" width="172.4" height="120.5" fill="#000"/>
<clipPath id="c18"><rect x="942" y="509.2" width="172.4" height="120.5"/></clipPath>
<radialGradient id="g19" gradientUnits="userSpaceOnUse" cx="1032.8" cy="546" r="125" gradientTransform="translate(1032.8 546) scale(1 0.8000) translate(-1032.8 -546)"><stop offset="0.0000" stop-color="#740000"/><stop offset="0.2400" stop-color="#620000"/><stop offset="0.4000" stop-color="#420000"/><stop offset="0.5600" stop-color="#280000"/><stop offset="0.7600" stop-color="#110000"/><stop offset="1.0000" stop-color="#040000"/></radialGradient>
<rect x="942" y="509.2" width="172.4" height="120.5" fill="url(#g19)" clip-path="url(#c18)"/>
<radialGradient id="g20" gradientUnits="userSpaceOnUse" cx="1032.8" cy="562.0" r="61" gradientTransform="translate(1032.8 562.0) scale(1 0.8600) translate(-1032.8 -562.0)"><stop offset="0.0000" stop-color="#ff2800"/><stop offset="0.3279" stop-color="#fa1800"/><stop offset="0.4590" stop-color="#ec0800"/><stop offset="0.5656" stop-color="#d00000"/><stop offset="0.6721" stop-color="#a80000" stop-opacity="0.85"/><stop offset="0.8033" stop-color="#800000" stop-opacity="0.5"/><stop offset="1.0000" stop-color="#600000" stop-opacity="0"/></radialGradient>
<rect x="942" y="509.2" width="172.4" height="120.5" fill="url(#g20)" clip-path="url(#c18)"/>
<radialGradient id="g21" gradientUnits="userSpaceOnUse" cx="1032.8" cy="564.5" r="30" gradientTransform="translate(1032.8 564.5) scale(1 0.5500) translate(-1032.8 -564.5)"><stop offset="0.0000" stop-color="#fff060"/><stop offset="0.2333" stop-color="#ffe838"/><stop offset="0.4167" stop-color="#ffd418"/><stop offset="0.5500" stop-color="#ffa800"/><stop offset="0.6833" stop-color="#ff6800" stop-opacity="0.85"/><stop offset="0.8333" stop-color="#ff3800" stop-opacity="0.45"/><stop offset="1.0000" stop-color="#ff2800" stop-opacity="0"/></radialGradient>
<rect x="942" y="509.2" width="172.4" height="120.5" fill="url(#g21)" clip-path="url(#c18)"/>
<line x1="942.0" y1="570.0" x2="1114.4" y2="570.0" stroke="#2a8a90" stroke-width="1.1" />
<polyline points="1016.3,570 1016.3,562.6 1048.6,562.6 1048.6,570" fill="none" stroke="#94a088" stroke-width="1.1"/>
<polyline points="973.6,513.2 973.6,608.4 1096,608.4" fill="none" stroke="#e4e4e4" stroke-width="1.4"/>
<line x1="973.6" y1="521.8" x2="979.6" y2="521.8" stroke="#e4e4e4" stroke-width="1.4" />
<text x="968.1" y="528.1" font-size="19.5" fill="#f2f2f2" text-anchor="end" >2</text>
<line x1="973.6" y1="545.5" x2="979.6" y2="545.5" stroke="#e4e4e4" stroke-width="1.4" />
<text x="968.1" y="551.8" font-size="19.5" fill="#f2f2f2" text-anchor="end" >1</text>
<line x1="973.6" y1="570.0" x2="979.6" y2="570.0" stroke="#e4e4e4" stroke-width="1.4" />
<text x="968.1" y="576.3" font-size="19.5" fill="#f2f2f2" text-anchor="end" >0</text>
<line x1="973.6" y1="594.0" x2="979.6" y2="594.0" stroke="#e4e4e4" stroke-width="1.4" />
<text x="968.1" y="600.3" font-size="19.5" fill="#f2f2f2" text-anchor="end" >-1</text>
<line x1="984.2" y1="608.4" x2="984.2" y2="602.4" stroke="#e4e4e4" stroke-width="1.4" />
<text x="988.8" y="625.4" font-size="19.5" fill="#f2f2f2" text-anchor="end">-2</text>
<line x1="1032.3" y1="608.4" x2="1032.3" y2="602.4" stroke="#e4e4e4" stroke-width="1.4" />
<text x="1032.3" y="625.4" font-size="19.5" fill="#f2f2f2" text-anchor="middle" >0</text>
<line x1="1079.7" y1="608.4" x2="1079.7" y2="602.4" stroke="#e4e4e4" stroke-width="1.4" />
<text x="1079.7" y="625.4" font-size="19.5" fill="#f2f2f2" text-anchor="middle" >2</text>
<text x="726.3" y="659.2" font-size="23.3" fill="#000" text-anchor="start" >Si<tspan dy="4.2" font-size="14">3</tspan><tspan dy="-4.2" dx="1.3">N</tspan><tspan dy="4.2" font-size="14">4</tspan><tspan dy="-4.2" dx="1.3"> TE mode</tspan></text>
<text x="954.0" y="659.2" font-size="23.3" fill="#000" text-anchor="start" >Si<tspan dy="4.2" font-size="14">3</tspan><tspan dy="-4.2" dx="1.3">N</tspan><tspan dy="4.2" font-size="14">4</tspan><tspan dy="-4.2" dx="1.3"> TM mode</tspan></text>
</g>
</svg></body></html>
